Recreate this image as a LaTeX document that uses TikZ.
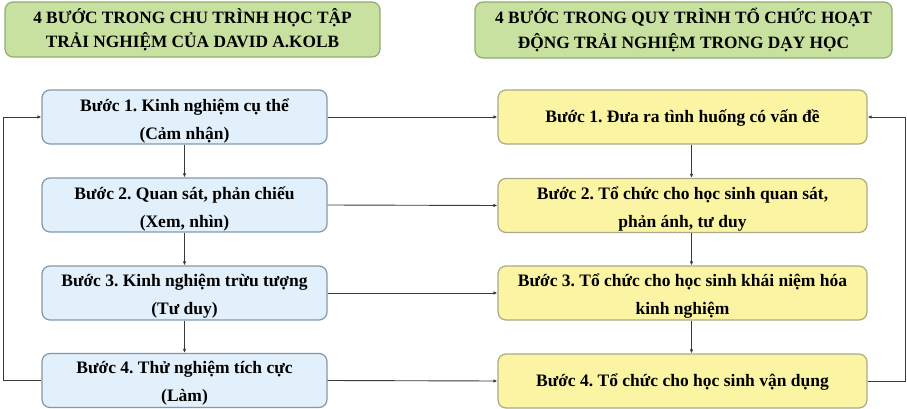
\documentclass[tikz,border=0pt]{standalone}
\usepackage{fontspec}
\setmainfont{Liberation Serif}
\usetikzlibrary{arrows.meta}
\definecolor{titlefill}{HTML}{C8E0A0}
\definecolor{titledraw}{HTML}{8DAF6C}
\definecolor{bluefill}{HTML}{E2F0FB}
\definecolor{bluedraw}{HTML}{8098AE}
\definecolor{yelfill}{HTML}{FBF4A2}
\definecolor{yeldraw}{HTML}{AAAA88}
\definecolor{linecol}{HTML}{3A3A3A}
\begin{document}
\frenchspacing
\begin{tikzpicture}[x=1pt,y=-1pt,
  box/.style={rounded corners=8pt, line width=1.2pt, align=center, inner sep=0pt},
  txt/.style={align=center, inner sep=0pt, font=\fontsize{17.5}{28}\selectfont\bfseries},
  titlebox/.style={box, fill=titlefill, draw=titledraw, font=\fontsize{17.3}{24.5}\selectfont\bfseries},
  lbox/.style={box, fill=bluefill, draw=bluedraw, minimum width=285pt, minimum height=54pt},
  rbox/.style={box, fill=yelfill, draw=yeldraw, minimum width=369pt, minimum height=54pt},
  conn/.style={draw=linecol, line width=0.9pt, -{Latex[length=4pt,width=3.5pt]}}]
\useasboundingbox (0,0) rectangle (907,409);
\fill[white] (0,0) rectangle (907,409);
% titles
\node[titlebox, minimum width=375pt, minimum height=55pt] (t1) at (192.5,29.5)
  {4 BƯỚC TRONG CHU TRÌNH HỌC TẬP\\TRẢI NGHIỆM CỦA DAVID A.KOLB};
\node[titlebox, minimum width=417pt, minimum height=56pt] (t2) at (683.5,30)
  {4 BƯỚC TRONG QUY TRÌNH TỔ CHỨC HOẠT\\ĐỘNG TRẢI NGHIỆM TRONG DẠY HỌC};
% left boxes
\node[lbox] (l1) at (184.5,117) {};
\node[lbox] (l2) at (184.5,205) {};
\node[lbox] (l3) at (184.5,293) {};
\node[lbox] (l4) at (184.5,380.5) {};
\node[txt] (l1t) at ([yshift=-4pt]l1.center) {Bước 1. Kinh nghiệm cụ thể\\(Cảm nhận)};
\node[txt] (l2t) at ([yshift=-4pt]l2.center) {Bước 2. Quan sát, phản chiếu\\(Xem, nhìn)};
\node[txt] (l3t) at ([yshift=-3pt]l3.center) {Bước 3. Kinh nghiệm trừu tượng\\(Tư duy)};
\node[txt] (l4t) at ([yshift=-3pt]l4.center) {Bước 4. Thử nghiệm tích cực\\(Làm)};
% right boxes
\node[rbox] (r1) at (682.5,117) {};
\node[rbox] (r2) at (682.5,205.5) {};
\node[rbox] (r3) at (682.5,293) {};
\node[rbox] (r4) at (682.5,381) {};
\node[txt] (r1t) at ([yshift=-1pt]r1.center) {Bước 1. Đưa ra tình huống có vấn đề};
\node[txt] (r2t) at ([yshift=-4pt]r2.center) {Bước 2. Tổ chức cho học sinh quan sát,\\phản ánh, tư duy};
\node[txt] (r3t) at ([yshift=-3pt]r3.center) {Bước 3. Tổ chức cho học sinh khái niệm hóa\\kinh nghiệm};
\node[txt] (r4t) at ([yshift=-1pt]r4.center) {Bước 4. Tổ chức cho học sinh vận dụng};
% vertical arrows
\draw[conn] (l1) -- (l2);
\draw[conn] (l2) -- (l3);
\draw[conn] (l3) -- (l4);
\draw[conn] ([xshift=9pt]r1.south) -- ([xshift=9pt]r2.north);
\draw[conn] ([xshift=9pt]r2.south) -- ([xshift=9pt]r3.north);
\draw[conn] ([xshift=9pt]r3.south) -- ([xshift=9pt]r4.north);
% horizontal arrows
\draw[conn] (l1.east) -- (r1.west);
\draw[conn] (l2.east) -- (r2.west);
\draw[conn] (l3.east) -- (r3.west);
\draw[conn] (l4.east) -- (r4.west);
% loops
\coordinate (lx) at (3.5,0);
\coordinate (rx) at (905,0);
\draw[conn] (l4.west) -- (l4.west -| lx) -- (l1.west -| lx) -- (l1.west);
\draw[conn] (r4.east) -- (r4.east -| rx) -- (r1.east -| rx) -- (r1.east);
\end{tikzpicture}
\end{document}
